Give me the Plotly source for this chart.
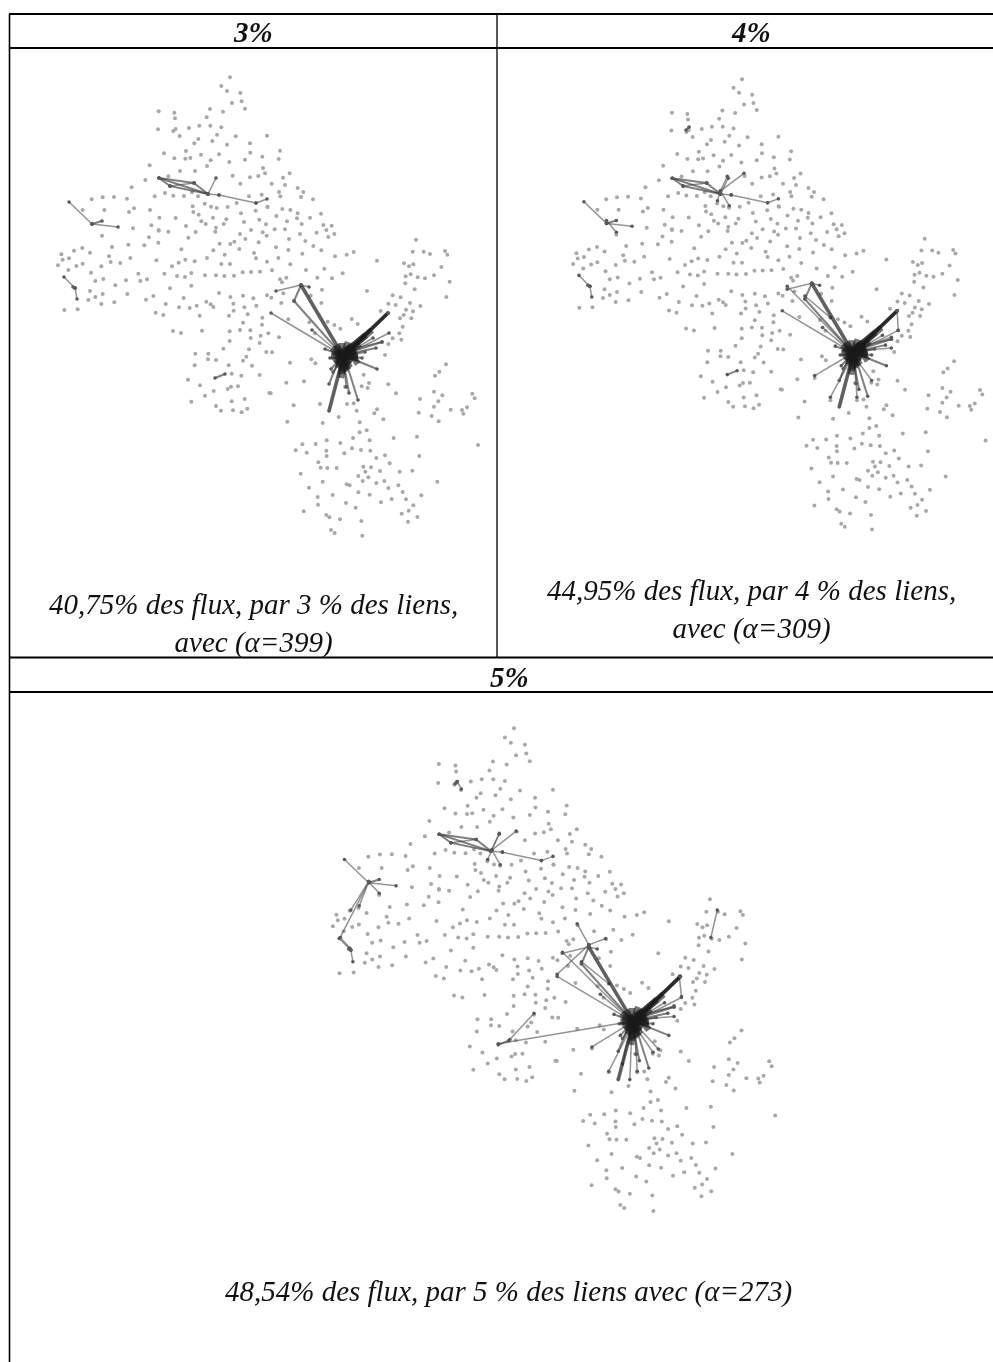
import plotly.graph_objects as go

# Node readings, in third-of-a-pixel units, per map sector
sector_nw_origin = (40, 60)
sector_nw = [(570,52),(544,78),(561,93),(601,99),(576,129),(605,124),(615,146),(510,147),(549,155),(356,154),(403,158),(405,175),(500,172),(354,208),(400,213),(407,207),(447,204),(478,197),(511,197),(544,202),(419,228),(531,224),(475,237),(463,250),(517,243),(561,254),(587,229),(630,250),(681,227),(631,278),(372,280),(438,273),(403,295),(436,296),(451,294),(483,284),(537,283),(512,301),(568,306),(615,299),(667,290),(329,316),(501,318),(420,333),(465,333),(669,324),(578,347),(630,352),(655,348),(675,340),(316,360),(385,349),(601,371),(275,382),(344,409),(375,399),(400,407),(432,408),(456,397),(474,409),(155,418),(188,412),(222,411),(261,416),(627,409),(665,404),(458,439),(494,431),(513,440),(530,444),(563,441),(590,429),(682,440),(128,450),(193,450),(282,445),(267,456),(330,450),(460,456),(476,464),(603,460),(647,452),(358,473),(407,474),(519,473),(559,478),(658,479),(484,484),(497,492),(551,492),(612,486),(334,496),(438,498),(528,503),(678,493),(279,505),(356,510)]
sector_sw_origin = (40, 220)
sector_sw = [(186,47),(600,42),(633,30),(668,37),(680,47),(385,35),(467,36),(526,35),(356,32),(445,53),(327,52),(616,57),(355,68),(265,74),(313,76),(539,71),(571,72),(583,65),(656,67),(216,81),(127,84),(102,92),(150,98),(64,103),(424,88),(520,91),(598,87),(642,99),(554,104),(207,109),(87,115),(68,119),(271,114),(501,114),(648,115),(349,121),(416,128),(436,119),(464,124),(212,126),(241,129),(128,131),(109,138),(54,136),(184,139),(396,139),(544,132),(570,132),(681,125),(85,150),(153,158),(295,161),(373,161),(454,159),(495,166),(528,166),(553,168),(582,167),(608,157),(633,156),(660,155),(411,168),(435,171),(190,177),(166,183),(258,181),(301,183),(321,178),(226,196),(454,197),(390,205),(150,213),(188,222),(262,222),(537,219),(166,231),(609,227),(571,231),(640,235),(681,226),(145,240),(340,228),(318,239),(431,234),(499,245),(512,253),(520,261),(580,251),(649,257),(613,262),(184,252),(223,247),(377,252),(417,262),(449,264),(470,257),(581,272),(73,270),(113,268),(347,278),(370,285),(479,287),(567,287),(623,283),(667,293),(609,308),(666,314),(399,333),(423,339),(486,332),(569,334),(600,330),(631,331),(662,347),(685,340),(632,354),(569,363),(659,369),(550,386),(627,388),(679,396),(466,401),(505,401),(504,418),(528,420),(619,410),(609,422),(464,436),(566,436),(636,437),(575,461),(604,467),(659,465),(444,479),(480,496),(573,500),(594,499),(563,507),(521,513),(495,527),(688,519),(454,545),(575,544),(614,537),(528,558),(543,572),(579,571),(605,577),(622,566)]
sector_ne_origin = (260, 150)
sector_ne = [(56,27),(60,2),(89,70),(69,83),(35,101),(75,105),(113,114),(130,126),(57,126),(61,139),(123,141),(159,148),(23,171),(67,177),(91,180),(113,190),(183,191),(111,205),(150,203),(49,198),(81,214),(125,222),(44,238),(75,238),(190,225),(215,227),(199,240),(170,248),(120,252),(223,252),(205,261),(87,267),(136,273),(468,269),(160,288),(48,292),(85,300),(184,301),(458,305),(491,305),(510,312),(555,303),(562,314),(127,311),(225,319),(260,314),(281,306),(55,324),(351,332),(432,340),(447,349),(460,343),(91,343),(544,351),(36,361),(138,360),(193,356),(437,379),(452,373),(473,382),(495,385),(522,376),(60,388),(79,383),(172,383),(216,385),(248,370),(66,397),(436,400),(569,395),(186,419),(464,418),(321,423),(34,443),(70,430),(152,437),(398,436),(422,442),(64,459),(184,459),(385,461),(407,465),(450,459),(481,468),(559,441),(362,483),(438,479),(459,484),(431,495),(420,505),(454,505),(85,508),(275,507)]
sector_e_origin = (260, 280)
sector_e = [(203,125),(223,135),(241,146),(293,132),(148,127),(165,160),(57,172),(418,160),(428,140),(398,175),(424,179),(385,192),(36,217),(375,225),(154,238),(90,248),(166,250),(558,253),(538,275),(525,287),(311,284),(79,308),(132,304),(327,309),(305,319),(323,324),(255,320),(385,313),(32,340),(408,340),(522,335),(547,346),(637,341),(644,355),(480,357),(535,364),(101,376),(180,372),(261,372),(281,370),(522,380),(572,389),(606,390),(621,382),(610,401),(351,388),(343,400),(290,392),(476,398),(515,408),(370,418),(536,424),(236,411),(82,425),(188,429),(299,427),(654,495)]
sector_s_origin = (280, 400)
sector_s = [(239,97),(260,91),(219,114),(269,121),(341,114),(411,110),(140,121),(67,133),(107,132),(181,129),(47,151),(80,158),(139,152),(140,168),(193,160),(216,145),(243,150),(271,152),(289,174),(315,166),(418,168),(115,187),(122,203),(142,204),(170,204),(329,190),(250,200),(273,202),(62,221),(256,215),(300,213),(359,215),(397,212),(235,228),(265,232),(128,245),(248,243),(289,249),(313,243),(472,245),(200,253),(209,256),(87,263),(325,264),(355,256),(235,277),(269,284),(158,285),(368,276),(424,286),(113,291),(335,297),(378,298),(114,314),(198,309),(303,307),(400,316),(227,323),(71,334),(386,332),(365,341),(139,345),(148,352),(180,358),(244,363),(412,351),(384,365),(153,390),(164,399),(247,407)]
sectors = [(sector_nw_origin, sector_nw), (sector_sw_origin, sector_sw), (sector_ne_origin, sector_ne), (sector_e_origin, sector_e), (sector_s_origin, sector_s)]

hub = (343, 356)
# Links, by flow class, as end points in map coordinates
core_links = [(336,345,343,356),(352,346,343,356),(352,362,343,356),(338,368,343,356),(345,372,343,356),(333,352,343,356),(356,350,343,356),(360,344,343,356),(348,342,343,356),(358,358,343,356),(336,364,343,356),(350,368,343,356),(341,378,343,362),(332,348,350,364),(336,360,356,352),(340,350,348,370),(354,345,334,362),(358,364,346,346),(331,356,358,356),(342,343,342,374),(366,335,348,350),(372,330,346,352)]
heavy_links = [(301,285,343,356),(388,313,343,356),(388,313,350,350),(329,411,341,365)]
medium_links = [(159,178,194,183),(159,178,170,186),(159,178,208,194),(170,186,208,194),(194,183,208,194),(92,224,102,221),(73,287,75,288),(215,378,225,374),(294,301,343,356),(301,285,294,301),(331,369,343,356),(329,384,338,362),(358,400,347,365),(349,393,344,365),(377,369,350,358),(376,348,348,354),(382,342,350,352),(325,349,343,356),(330,358,343,356),(365,352,343,356),(362,358,343,356),(333,372,343,358),(388,313,356,344)]
light_links = [(170,186,194,183),(208,194,216,178),(208,194,219,195),(219,195,256,203),(256,203,267,199),(69,202,92,224),(92,224,118,227),(64,277,75,288),(75,288,77,299),(276,291,301,285),(309,287,301,285),(271,313,343,356),(389,333,352,352),(373,338,343,356),(312,330,338,352),(382,342,346,350),(346,387,344,362)]
extra_links_4pct = [(276,288,343,356),(389,333,388,313),(304,379,343,356),(320,401,341,362),(347,401,345,365),(362,384,346,362),(208,191,232,173),(208,191,215,176),(208,191,205,201),(208,191,217,206),(92,221,102,233),(173,129,176,126),(294,298,320,320),(382,340,346,352),(382,351,346,354)]
extra_links_5pct = [(276,290,343,356),(389,332,387,313),(304,380,343,356),(320,403,341,362),(347,403,345,365),(362,385,346,362),(367,382,347,360),(340,411,342,362),(333,396,341,362),(209,193,232,175),(209,193,216,177),(209,193,205,202),(209,193,217,207),(92,223,102,234),(92,223,65,276),(92,223,75,250),(92,223,83,246),(65,276,74,286),(174,130,176,128),(176,128,180,135),(301,283,290,263),(301,283,317,277),(271,311,301,283),(215,377,334,357),(226,373,249,348),(423,250,417,276),(294,299,320,320),(382,341,346,352),(382,351,346,354)]

captions = ["40,75% des flux, par 3 % des liens,<br>avec (α=399)", "44,95% des flux, par 4 % des liens,<br>avec (α=309)", "48,54% des flux, par 5 % des liens avec (α=273)"]
headers = ["3%", "4%", "5%"]

W, H = 993, 1362
nodes = []
for (ox, oy), pts in sectors:
    nodes += [(ox + a / 3, oy + b / 3) for a, b in pts]

def segs(links):
    xs, ys = [], []
    for x0, y0, x1, y1 in links:
        xs += [x0, x1, None]
        ys += [y0, y1, None]
    return xs, ys

panels = [
    dict(box=(11, 50, 496, 656), hub_px=(343, 356), scale=1.0, extra=[]),
    dict(box=(498, 50, 993, 656), hub_px=(853, 353), scale=0.982, extra=extra_links_4pct),
    dict(box=(11, 693, 993, 1362), hub_px=(633, 1021.7), scale=1.053, extra=extra_links_5pct),
]

fig = go.Figure()
layout = {}
for i, p in enumerate(panels):
    s = "" if i == 0 else str(i + 1)
    L, T, R, B = p["box"]
    hx, hy = p["hub_px"]
    k = p["scale"]
    layout[f"xaxis{s}"] = dict(domain=[L / W, R / W], range=[hub[0] + (L - hx) / k, hub[0] + (R - hx) / k], visible=False)
    layout[f"yaxis{s}"] = dict(domain=[1 - B / H, 1 - T / H], range=[hub[1] + (B - hy) / k, hub[1] + (T - hy) / k], visible=False)
    ax = dict(xaxis=f"x{s}", yaxis=f"y{s}", hoverinfo="skip", showlegend=False)
    fig.add_trace(go.Scatter(x=[n[0] for n in nodes], y=[n[1] for n in nodes], mode="markers",
                             marker=dict(size=4, color="#a8a8a8"), **ax))
    for links, w, c, m in [(light_links + p["extra"], 1.5, "rgba(90,90,90,0.65)", "lines+markers"),
                           (medium_links, 2.0, "rgba(60,60,60,0.65)", "lines+markers"),
                           (heavy_links, 3.6, "rgba(35,35,35,0.72)", "lines+markers"),
                           (core_links, 6.5, "rgba(25,25,25,0.6)", "lines")]:
        xs, ys = segs(links)
        fig.add_trace(go.Scatter(x=xs, y=ys, mode=m, line=dict(width=w, color=c),
                                 marker=dict(size=3.6, color="#5a5a5a"), **ax))

rules = [(9, 14, 993, 14, 2.2), (9, 48, 993, 48, 2.2), (9, 657.5, 993, 657.5, 2.2), (9, 692, 993, 692, 2.2),
         (9.5, 14, 9.5, 1362, 1.6), (497, 14, 497, 657, 1.3)]
shapes = [dict(type="line", xref="paper", yref="paper", x0=a / W, y0=1 - b / H, x1=c / W, y1=1 - d / H,
               line=dict(color="black", width=w)) for a, b, c, d, w in rules]

def label(text, x, y, size):
    return dict(text=text, x=x / W, y=1 - y / H, xref="paper", yref="paper", showarrow=False, xanchor="center",
                yanchor="middle", align="center", font=dict(family="Liberation Serif", size=size, color="#111"))

annots = [label(f"<b><i>{headers[0]}</i></b>", 253, 32, 29), label(f"<b><i>{headers[1]}</i></b>", 751, 32, 29),
          label(f"<b><i>{headers[2]}</i></b>", 509, 677, 29),
          label(f"<i>{captions[0]}</i>", 253, 623, 29), label(f"<i>{captions[1]}</i>", 751, 609, 29),
          label(f"<i>{captions[2]}</i>", 508, 1291, 29)]

fig.update_layout(width=W, height=H, margin=dict(l=0, r=0, t=0, b=0), paper_bgcolor="white", plot_bgcolor="white",
                  shapes=shapes, annotations=annots, showlegend=False, **layout)
post = ("document.body.style.margin='0';document.documentElement.style.overflow='hidden';"
        "var st=document.createElement('style');st.textContent='g.cartesianlayer{filter:blur(0.55px)}';document.head.appendChild(st);")
fig.write_html("out.html", post_script=post, config=dict(displayModeBar=False))
